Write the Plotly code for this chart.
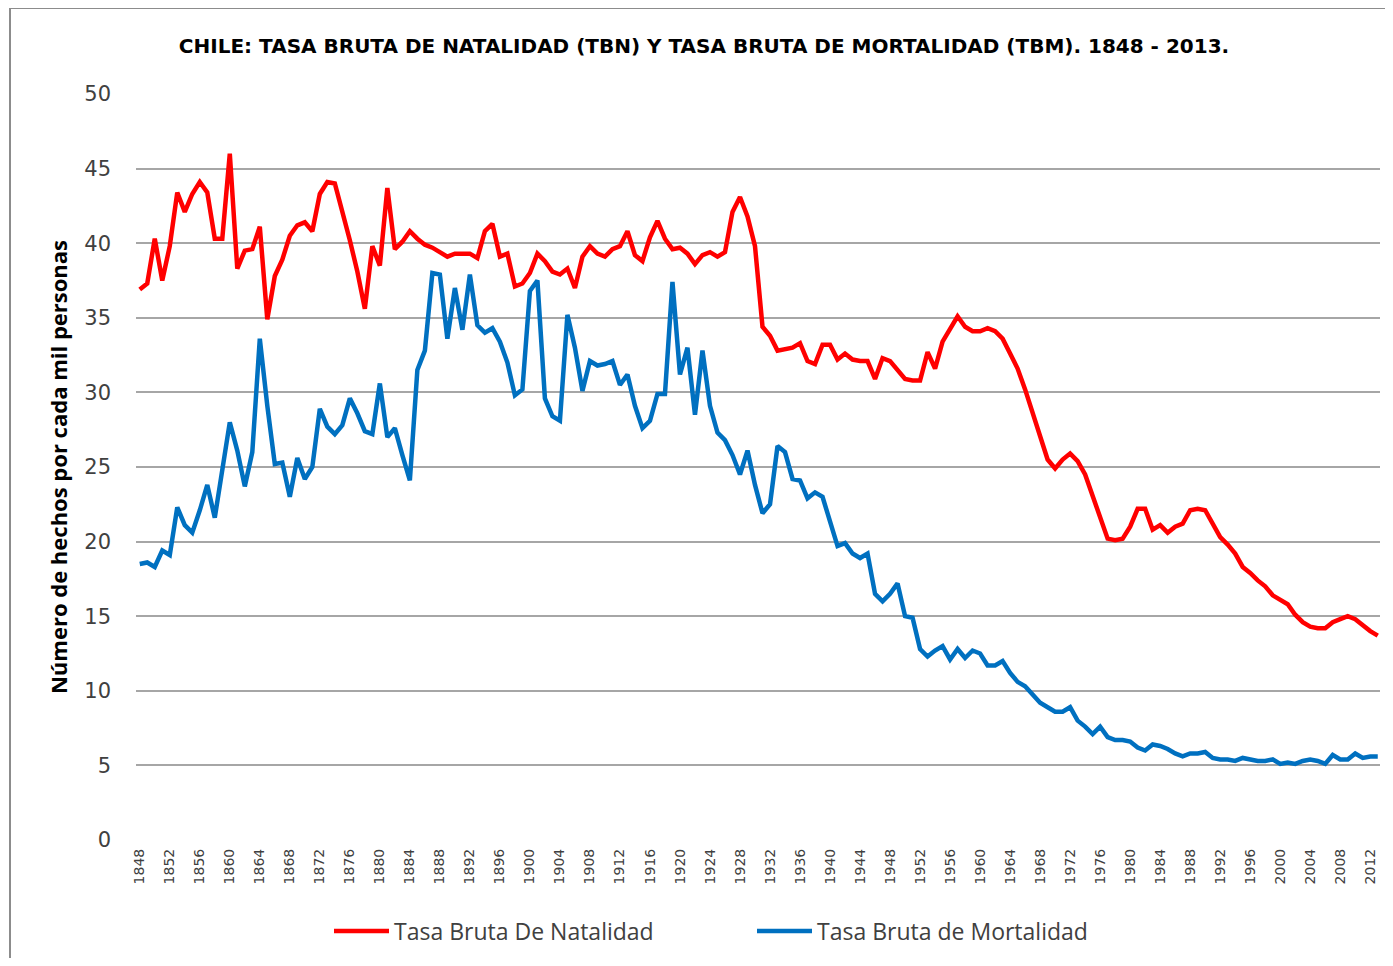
import plotly.graph_objects as go

years = list(range(1848, 2014))

tbn = [
    36.9, 37.3, 40.3, 37.5, 39.8, 43.4, 42.1, 43.3, 44.1, 43.4, 40.3, 40.3,          # 1848-1859
    46.0, 38.3, 39.5, 39.6, 41.1, 34.9, 37.8, 38.9, 40.5, 41.2,                      # 1860-1869
    41.4, 40.8, 43.3, 44.1, 44.0, 42.2, 40.2, 38.1, 35.6, 39.8,                      # 1870-1879
    38.5, 43.7, 39.6, 40.1, 40.8, 40.3, 39.9, 39.7, 39.4, 39.1,                      # 1880-1889
    39.3, 39.3, 39.3, 39.0, 40.8, 41.3, 39.1, 39.3, 37.1, 37.3,                      # 1890-1899
    38.0, 39.3, 38.8, 38.1, 37.9, 38.3, 37.0, 39.1, 39.8, 39.3,                      # 1900-1909
    39.1, 39.6, 39.8, 40.8, 39.2, 38.8, 40.4, 41.5, 40.3, 39.6,                      # 1910-1919
    39.7, 39.3, 38.6, 39.2, 39.4, 39.1, 39.4, 42.1, 43.1, 41.8,                      # 1920-1929
    39.8, 34.4, 33.8, 32.8, 32.9, 33.0, 33.3, 32.1, 31.9, 33.2,                      # 1930-1939
    33.2, 32.2, 32.6, 32.2, 32.1, 32.1, 30.9, 32.3, 32.1, 31.5,                      # 1940-1949
    30.9, 30.8, 30.8, 32.7, 31.6, 33.4, 34.3, 35.1, 34.4, 34.1,                      # 1950-1959
    34.1, 34.3, 34.1, 33.6, 32.6, 31.6, 30.2, 28.6, 27.0, 25.5,                      # 1960-1969
    24.9, 25.5, 25.9, 25.4, 24.5, 23.0, 21.6, 20.2, 20.1, 20.2,                      # 1970-1979
    21.0, 22.2, 22.2, 20.8, 21.1, 20.6, 21.0, 21.2, 22.1, 22.2,                      # 1980-1989
    22.1, 21.2, 20.3, 19.8, 19.2, 18.3, 17.9, 17.4, 17.0, 16.4,                      # 1990-1999
    16.1, 15.8, 15.1, 14.6, 14.3, 14.2, 14.2, 14.6, 14.8, 15.0,                      # 2000-2009
    14.8, 14.4, 14.0, 13.7,                                                          # 2010-2013
]

tbm = [
    18.5, 18.6, 18.3, 19.4, 19.1, 22.3, 21.1, 20.6, 22.1, 23.8, 21.6, 24.6,          # 1848-1859
    28.0, 26.1, 23.7, 26.0, 33.6, 29.1, 25.2, 25.3, 23.0, 25.6,                      # 1860-1869
    24.2, 25.0, 28.9, 27.7, 27.2, 27.8, 29.6, 28.6, 27.4, 27.2,                      # 1870-1879
    30.6, 27.0, 27.6, 25.8, 24.1, 31.5, 32.8, 38.0, 37.9, 33.6,                      # 1880-1889
    37.0, 34.2, 37.9, 34.5, 34.0, 34.3, 33.4, 32.0, 29.8, 30.2,                      # 1890-1899
    36.8, 37.5, 29.6, 28.4, 28.1, 35.2, 33.0, 30.1, 32.1, 31.8,                      # 1900-1909
    31.9, 32.1, 30.5, 31.2, 29.1, 27.6, 28.1, 29.9, 29.9, 37.4,                      # 1910-1919
    31.2, 33.0, 28.5, 32.8, 29.1, 27.3, 26.8, 25.8, 24.5, 26.1,                      # 1920-1929
    23.8, 21.9, 22.5, 26.4, 26.0, 24.2, 24.1, 22.9, 23.3, 23.0,                      # 1930-1939
    21.3, 19.7, 19.9, 19.2, 18.9, 19.2, 16.5, 16.0, 16.5, 17.2,                      # 1940-1949
    15.0, 14.9, 12.8, 12.3, 12.7, 13.0, 12.1, 12.8, 12.2, 12.7,                      # 1950-1959
    12.5, 11.7, 11.7, 12.0, 11.2, 10.6, 10.3, 9.7, 9.2, 8.9,                         # 1960-1969
    8.6, 8.6, 8.9, 8.0, 7.6, 7.1, 7.6, 6.9, 6.7, 6.7,                                # 1970-1979
    6.6, 6.2, 6.0, 6.4, 6.3, 6.1, 5.8, 5.6, 5.8, 5.8,                                # 1980-1989
    5.9, 5.5, 5.4, 5.4, 5.3, 5.5, 5.4, 5.3, 5.3, 5.4,                                # 1990-1999
    5.1, 5.2, 5.1, 5.3, 5.4, 5.3, 5.1, 5.7, 5.4, 5.4,                                # 2000-2009
    5.8, 5.5, 5.6, 5.6,                                                              # 2010-2013
]

tick_years = list(range(1848, 2013, 4))
y_ticks = list(range(0, 51, 5))

title_text = "CHILE: TASA BRUTA DE NATALIDAD (TBN) Y TASA BRUTA DE MORTALIDAD (TBM). 1848 - 2013."
y_title = "Número de hechos por cada mil personas"

fig = go.Figure()
fig.add_trace(go.Scatter(x=years, y=tbn, mode="lines", name="Tasa Bruta De Natalidad",
                         line=dict(color="#FF0000", width=4.5)))
fig.add_trace(go.Scatter(x=years, y=tbm, mode="lines", name="Tasa Bruta de Mortalidad",
                         line=dict(color="#0070C0", width=4.5)))

# page body has an 8px margin: work in reference pixel coords and shift by O
O = 8
W, H = 1377, 950
L = 136 - O
T = 94 - O
B = H - (840 - O)
R = W - (1380 - O)
pw, ph = W - L - R, H - T - B


def px(xr):
    return (xr - O - L) / pw


def py(yr):
    return (H - B - (yr - O)) / ph


fig.add_shape(type="line", xref="paper", yref="paper", x0=px(10), x1=px(10), y0=py(8), y1=py(990),
              line=dict(color="#8C8C8C", width=2))
fig.add_shape(type="line", xref="paper", yref="paper", x0=px(10), x1=px(1420), y0=py(8), y1=py(8),
              line=dict(color="#8C8C8C", width=2))

fig.update_layout(
    width=W, height=H,
    margin=dict(l=L, r=R, t=T, b=B, autoexpand=False),
    paper_bgcolor="white", plot_bgcolor="white",
    title=dict(text="<b>" + title_text + "</b>", x=(704 - O) / W, xanchor="center",
               y=1 - (46 - O) / H, yanchor="middle",
               font=dict(family="DejaVu Sans", size=20, color="#000000")),
    xaxis=dict(range=[1847.5, 2013.3], tickmode="array", tickvals=tick_years,
               ticktext=[str(t) for t in tick_years], tickangle=-90,
               tickfont=dict(family="DejaVu Sans", size=14, color="#404040"),
               showgrid=False, zeroline=False, showline=False, ticks="",
               ticklabelstandoff=5),
    yaxis=dict(range=[0, 50], tickvals=y_ticks,
               tickfont=dict(family="DejaVu Sans", size=21, color="#404040"),
               showgrid=True, gridcolor="#A6A6A6", gridwidth=1.5,
               zeroline=False, showline=False, ticks="", ticklabelstandoff=24,
               title=dict(text="<b>" + y_title + "</b>", standoff=10,
                          font=dict(family="Open Sans", size=22, color="#000000"))),
    legend=dict(orientation="h", x=px(752), xanchor="center", y=py(931), yanchor="middle",
                font=dict(family="Open Sans", size=23, color="#404040"),
                bgcolor="rgba(0,0,0,0)", itemwidth=55, entrywidth=353,
                entrywidthmode="pixels", tracegroupgap=0),
    showlegend=True,
)

fig.write_html("out.html")
